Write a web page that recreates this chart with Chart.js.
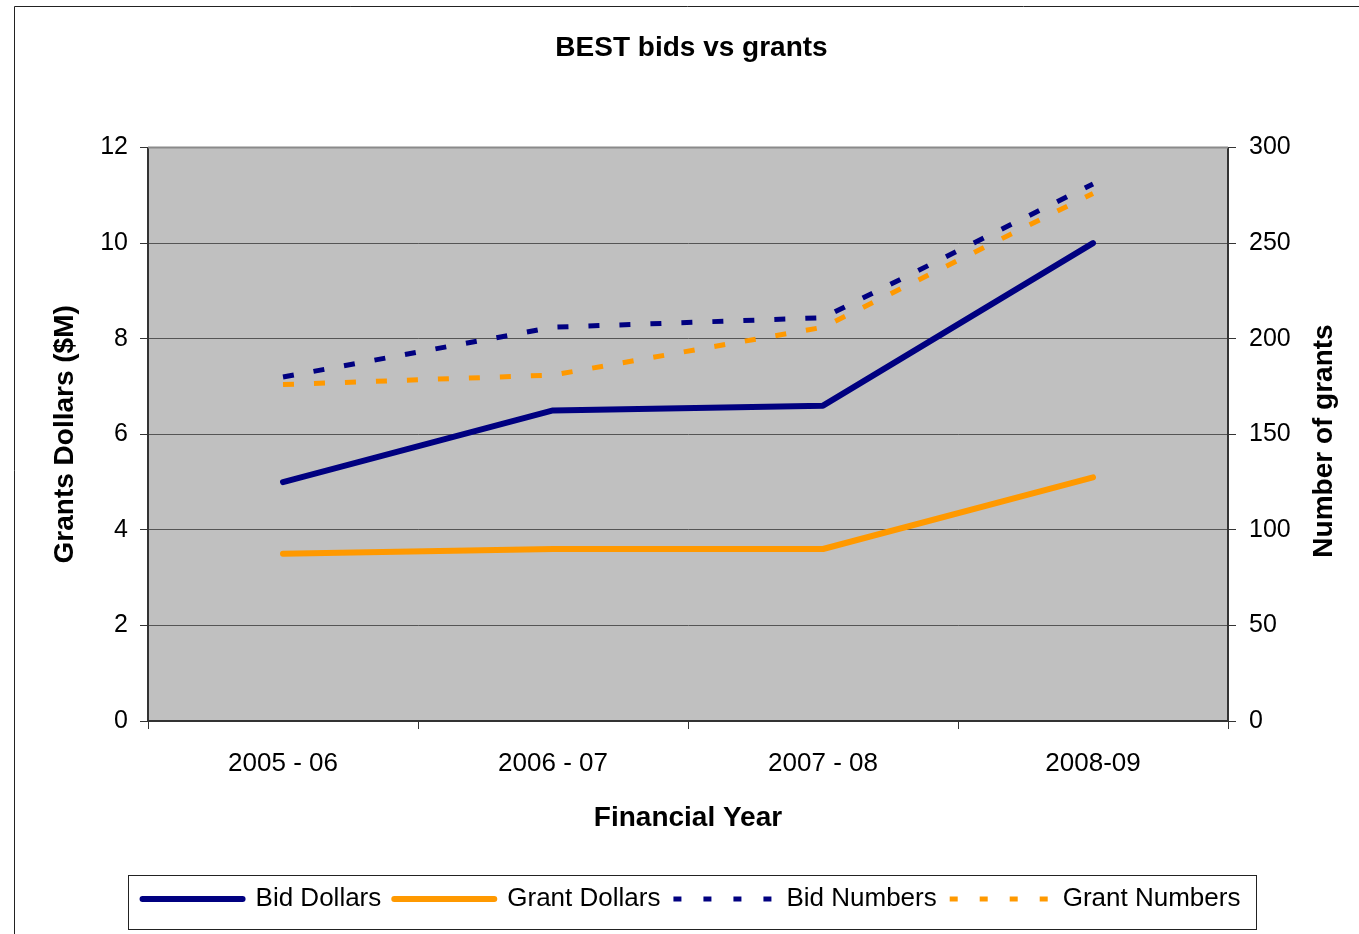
<!DOCTYPE html>
<html><head><meta charset="utf-8">
<script src="https://cdn.jsdelivr.net/npm/chart.js@4/dist/chart.umd.min.js"></script>
<style>html,body{margin:0;padding:0;background:#fff;overflow:hidden}#wrap{position:relative;width:1359px;height:934px}</style>
</head><body><div id="wrap"><canvas id="c"></canvas></div>
<script>
const categories = ['2005 - 06', '2006 - 07', '2007 - 08', '2008-09'];
const bidDollars = [5.0, 6.5, 6.6, 10.0];
const grantDollars = [3.5, 3.6, 3.6, 5.1];
const bidNumbers = [180, 206, 211, 281];
const grantNumbers = [176, 181, 206, 276];
const seriesNames = ['Bid Dollars', 'Grant Dollars', 'Bid Numbers', 'Grant Numbers'];
const leftAxis = {min: 0, max: 12, step: 2};
const rightAxis = {min: 0, max: 300, step: 50};

const FONT = "'Liberation Sans', Arial, sans-serif";
const NAVY = '#000080', ORANGE = '#FF9900';

const decor = {
  id: 'decor',
  beforeDraw(chart) {
    const {ctx, chartArea: a} = chart;
    ctx.save();
    ctx.fillStyle = '#C0C0C0';
    ctx.fillRect(a.left, a.top, a.right - a.left, a.bottom - a.top);
    ctx.strokeStyle = '#222';
    ctx.lineWidth = 1;
    ctx.beginPath();
    ctx.moveTo(14.5, 940); ctx.lineTo(14.5, 6.5); ctx.lineTo(1365, 6.5);
    ctx.stroke();
    ctx.restore();
  },
  afterDraw(chart) {
    const {ctx, chartArea: a, legend} = chart;
    ctx.save();
    ctx.strokeStyle = '#8a8a8a';
    ctx.lineWidth = 2;
    ctx.beginPath(); ctx.moveTo(a.left, a.top); ctx.lineTo(a.right, a.top); ctx.stroke();
    // legend frame
    ctx.strokeStyle = '#222';
    ctx.lineWidth = 1;
    ctx.strokeRect(128.5, legend.top + 2.5, 1128, 54);
    // right axis title (reads bottom to top)
    ctx.fillStyle = '#000';
    ctx.font = 'bold 28px ' + FONT;
    ctx.textAlign = 'center';
    ctx.textBaseline = 'middle';
    ctx.translate(1324, 441);
    ctx.rotate(-Math.PI / 2);
    ctx.fillText('Number of grants', 0, 0);
    ctx.restore();
  }
};

new Chart(document.getElementById('c'), {
  type: 'line',
  data: {
    labels: categories,
    datasets: [
      {label: seriesNames[0], data: bidDollars, yAxisID: 'y', borderColor: NAVY, backgroundColor: NAVY, borderWidth: 6, borderCapStyle: 'round', borderJoinStyle: 'round', pointRadius: 0, legendDash: []},
      {label: seriesNames[1], data: grantDollars, yAxisID: 'y', borderColor: ORANGE, backgroundColor: ORANGE, borderWidth: 6, borderCapStyle: 'round', borderJoinStyle: 'round', pointRadius: 0, legendDash: []},
      {label: seriesNames[2], data: bidNumbers, yAxisID: 'y1', borderColor: NAVY, backgroundColor: NAVY, borderWidth: 5, borderDash: [11, 20], borderCapStyle: 'butt', pointRadius: 0, legendDash: [8, 22]},
      {label: seriesNames[3], data: grantNumbers, yAxisID: 'y1', borderColor: ORANGE, backgroundColor: ORANGE, borderWidth: 5, borderDash: [11, 20], borderCapStyle: 'butt', pointRadius: 0, legendDash: [8, 22]}
    ]
  },
  options: {
    responsive: true,
    maintainAspectRatio: false,
    animation: false,
    devicePixelRatio: 1,
    layout: {padding: {left: 24, right: 0, top: 0, bottom: 12}},
    plugins: {
      title: {display: true, text: 'BEST bids vs grants', color: '#000', font: {size: 28, weight: 'bold', family: FONT}, padding: {top: 31, bottom: 83}},
      legend: {
        position: 'bottom',
        labels: {
          usePointStyle: true, pointStyle: 'line', pointStyleWidth: 100, boxHeight: 26,
          color: '#000', font: {size: 26, family: FONT}, padding: 13,
          generateLabels(chart) {
            return chart.data.datasets.map((ds, i) => ({
              text: ds.label, fillStyle: ds.borderColor, strokeStyle: ds.borderColor,
              lineWidth: ds.borderWidth, lineDash: ds.legendDash, lineCap: ds.borderCapStyle,
              pointStyle: 'line', hidden: false, datasetIndex: i, fontColor: '#000'
            }));
          }
        }
      },
      tooltip: {enabled: false}
    },
    scales: {
      x: {
        type: 'category', offset: true,
        grid: {offset: true, drawOnChartArea: false, tickLength: 8, tickColor: '#333'},
        border: {display: true, color: '#333', width: 2},
        ticks: {color: '#000', font: {size: 26, family: FONT}, padding: 19, maxRotation: 0},
        title: {display: true, text: 'Financial Year', color: '#000', font: {size: 28, weight: 'bold', family: FONT}, padding: {top: 0, bottom: 38}},
        afterFit(s) { s.height = 152; }
      },
      y: {
        position: 'left', min: leftAxis.min, max: leftAxis.max,
        ticks: {stepSize: leftAxis.step, color: '#000', font: {size: 25, family: FONT}, padding: 12},
        grid: {color: '#555', lineWidth: 1, tickLength: 8, tickColor: '#333'},
        border: {display: true, color: '#333', width: 2},
        title: {display: true, text: 'Grants Dollars ($M)', color: '#000', font: {size: 28, weight: 'bold', family: FONT}, padding: {top: 24, bottom: 0}},
        afterFit(s) { s.width = 124; }
      },
      y1: {
        position: 'right', min: rightAxis.min, max: rightAxis.max,
        ticks: {stepSize: rightAxis.step, color: '#000', font: {size: 25, family: FONT}, padding: 13},
        grid: {drawOnChartArea: false, tickLength: 8, tickColor: '#333'},
        border: {display: true, color: '#333', width: 2},
        afterFit(s) { s.width = 131; }
      }
    }
  },
  plugins: [decor]
});
</script>
</body></html>
